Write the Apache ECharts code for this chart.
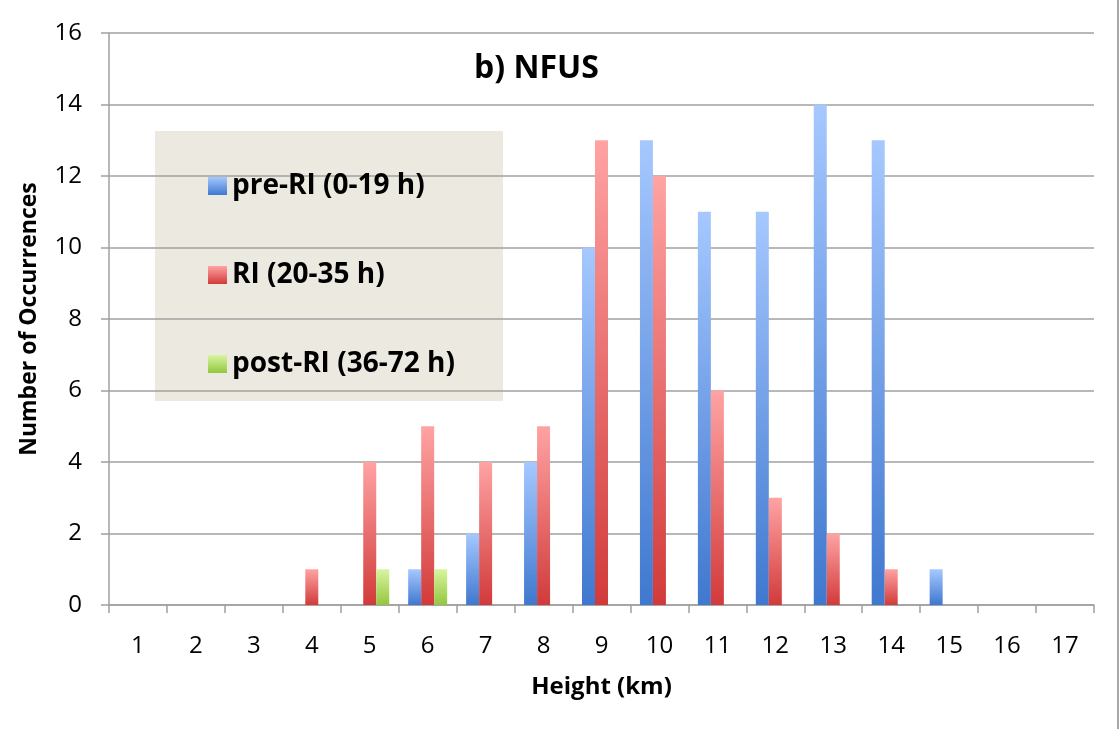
<!DOCTYPE html>
<html>
<head>
<meta charset="utf-8">
<script src="https://cdn.jsdelivr.net/npm/echarts@6/dist/echarts.min.js"></script>
<style>
  html, body { margin: 0; padding: 0; background: #fff; }
  #chart { width: 1120px; height: 729px; }
</style>
</head>
<body>
<div id="chart"></div>
<script>
  // height bins (km)
  const heights = ['1','2','3','4','5','6','7','8','9','10','11','12','13','14','15','16','17'];
  // occurrences per bin
  const preRI  = [0,0,0,0,0,1,2,4,10,13,11,11,14,13,1,0,0];
  const ri     = [0,0,0,1,4,5,4,5,13,12,6,3,2,1,0,0,0];
  const postRI = [0,0,0,0,1,1,0,0,0,0,0,0,0,0,0,0,0];
  const seriesNames = ['pre-RI (0-19 h)', 'RI (20-35 h)', 'post-RI (36-72 h)'];

  const font = '"Open Sans", "Liberation Sans", sans-serif';

  function grad(top, bottom) {
    return {
      type: 'linear', x: 0, y: 0, x2: 0, y2: 1,
      colorStops: [{ offset: 0, color: top }, { offset: 1, color: bottom }]
    };
  }

  const myChart = echarts.init(document.getElementById('chart'));
  const option = {
    animation: false,
    textStyle: { fontFamily: font },
    title: {
      text: 'b) NFUS',
      left: 469,
      top: 48,
      textStyle: { fontFamily: font, fontSize: 32, fontWeight: 'bold', color: '#000' }
    },
    graphic: [
      {
        type: 'rect',
        z: 0,
        shape: { x: 155, y: 131, width: 348, height: 270 },
        style: { fill: '#ECE9E0' }
      },
      {
        type: 'line',
        shape: { x1: 1118, y1: 0, x2: 1118, y2: 729 },
        style: { stroke: '#a8a8a8', lineWidth: 2 }
      }
    ],
    legend: {
      data: seriesNames,
      orient: 'vertical',
      left: 203,
      top: 167,
      itemWidth: 19,
      itemHeight: 18,
      itemGap: 61,
      icon: 'rect',
      z: 5,
      textStyle: { fontFamily: font, fontSize: 28, fontWeight: 'bold', color: '#000' }
    },
    grid: { left: 109, right: 26, top: 33, bottom: 124 },
    xAxis: {
      type: 'category',
      data: heights,
      name: 'Height (km)',
      nameLocation: 'middle',
      nameGap: 70,
      nameTextStyle: { fontFamily: font, fontSize: 24, fontWeight: 'bold', color: '#000' },
      axisLine: { lineStyle: { color: '#a0a0a0', width: 1.5 } },
      axisTick: { show: true, length: 8, lineStyle: { color: '#a0a0a0', width: 1.5 } },
      axisLabel: { fontFamily: font, fontSize: 24, color: '#000', margin: 29 }
    },
    yAxis: {
      type: 'value',
      min: 0,
      max: 16,
      interval: 2,
      name: 'Number of Occurrences',
      nameLocation: 'middle',
      nameGap: 68,
      nameTextStyle: { fontFamily: font, fontSize: 23, fontWeight: 'bold', color: '#000' },
      axisLine: { show: true, lineStyle: { color: '#a0a0a0', width: 1.5 } },
      axisTick: { show: true, length: 8, lineStyle: { color: '#a0a0a0', width: 1.5 } },
      axisLabel: { fontFamily: font, fontSize: 24, color: '#000', margin: 27 },
      splitLine: { lineStyle: { color: '#a0a0a0', width: 1.5 } }
    },
    series: [
      {
        name: seriesNames[0],
        type: 'bar',
        data: preRI,
        barWidth: 13,
        barGap: '0%',
        itemStyle: { color: grad('#a6c8ff', '#3f78cf') }
      },
      {
        name: seriesNames[1],
        type: 'bar',
        data: ri,
        barWidth: 13,
        barGap: '0%',
        itemStyle: { color: grad('#ffa3a3', '#d23a3a') }
      },
      {
        name: seriesNames[2],
        type: 'bar',
        data: postRI,
        barWidth: 13,
        barGap: '0%',
        itemStyle: { color: grad('#d8f5a0', '#94c63f') }
      }
    ]
  };
  myChart.setOption(option);
</script>
</body>
</html>
